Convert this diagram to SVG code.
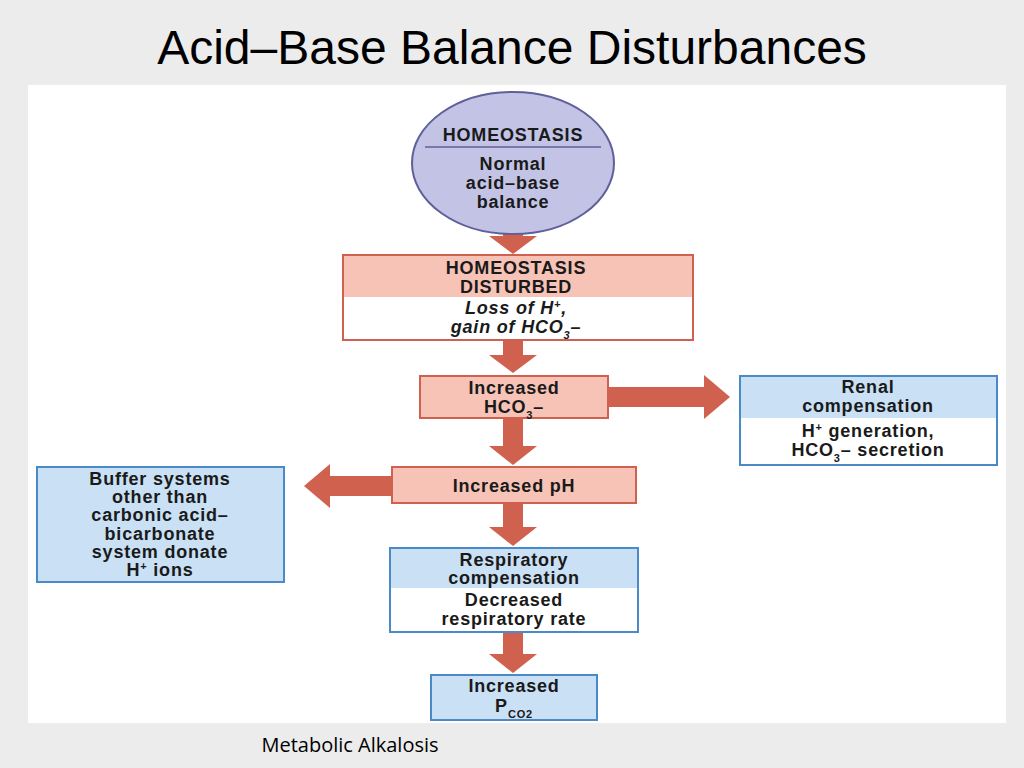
<svg xmlns="http://www.w3.org/2000/svg" width="1024" height="768" viewBox="0 0 1024 768">
<style>
.t{font-family:"Liberation Sans",Arial,sans-serif;font-weight:bold;font-size:18px;letter-spacing:0.8px;fill:#1a1a1a;text-anchor:middle}
.i{font-style:italic}
.pk{fill:#f6c3b6;stroke:#d0614f;stroke-width:2}
.bl{fill:#c9e0f5;stroke:#4a8ac6;stroke-width:2}
.wh{fill:#ffffff}
.ar{fill:#d0614f}
.sup{font-size:11px;baseline-shift:super}
.sub{font-size:11px;baseline-shift:sub}
</style>
<rect width="1024" height="768" fill="#ececec"/>
<rect x="28" y="85" width="978" height="638" fill="#ffffff"/>
<text x="512" y="64" font-family="'Liberation Sans',Arial,sans-serif" font-size="48" fill="#000" text-anchor="middle">Acid–Base Balance Disturbances</text>
<g id="connectors">
<path class="ar" d="M503 222h20v14h14l-24 18l-24-18h14z"/>
<path class="ar" d="M503 341h20v14h14l-24 18l-24-18h14z"/>
<path class="ar" d="M503 418h20v28h14l-24 19l-24-19h14z"/>
<path class="ar" d="M503 503h20v24h14l-24 19l-24-19h14z"/>
<path class="ar" d="M503 632h20v22h14l-24 19l-24-19h14z"/>
<path class="ar" d="M608 387h96v-12l26 22l-26 22v-12h-96z"/>
<path class="ar" d="M392 476h-62v-12l-26 22l26 22v-12h62z"/>
</g>
<g id="homeostasis">
<ellipse cx="513" cy="163" rx="101" ry="71" fill="#c3c3e6" stroke="#5f5f9a" stroke-width="2"/>
<line x1="425" y1="147" x2="601" y2="147" stroke="#5f5f9a" stroke-width="1.5"/>
<text class="t" x="513" y="141">HOMEOSTASIS</text>
<text class="t" x="513" y="170">Normal</text>
<text class="t" x="513" y="189">acid–base</text>
<text class="t" x="513" y="208">balance</text>
</g>
<g id="disturbed">
<rect class="wh" x="343" y="255" width="350" height="85"/>
<rect fill="#f6c3b6" x="343" y="255" width="350" height="42"/>
<rect x="343" y="255" width="350" height="85" fill="none" stroke="#d0614f" stroke-width="2"/>
<text class="t" x="516" y="274">HOMEOSTASIS</text>
<text class="t" x="516" y="293">DISTURBED</text>
<text class="t i" x="516" y="314">Loss of H<tspan class="sup">+</tspan>,</text>
<text class="t i" x="516" y="333">gain of HCO<tspan class="sub">3</tspan>–</text>
</g>
<g id="hco3">
<rect class="pk" x="420" y="376" width="188" height="42"/>
<text class="t" x="514" y="394">Increased</text>
<text class="t" x="514" y="413">HCO<tspan class="sub">3</tspan>–</text>
</g>
<g id="renal">
<rect class="wh" x="740" y="376" width="257" height="89"/>
<rect fill="#c9e0f5" x="740" y="376" width="257" height="42"/>
<rect x="740" y="376" width="257" height="89" fill="none" stroke="#4a8ac6" stroke-width="2"/>
<text class="t" x="868" y="393">Renal</text>
<text class="t" x="868" y="412">compensation</text>
<text class="t" x="868" y="437">H<tspan class="sup">+</tspan> generation,</text>
<text class="t" x="868" y="456">HCO<tspan class="sub">3</tspan>– secretion</text>
</g>
<g id="ph">
<rect class="pk" x="392" y="467" width="244" height="36"/>
<text class="t" x="514" y="492">Increased pH</text>
</g>
<g id="buffer">
<rect class="bl" x="37" y="467" width="247" height="115"/>
<text class="t" x="160" y="485">Buffer systems</text>
<text class="t" x="160" y="503">other than</text>
<text class="t" x="160" y="521">carbonic acid–</text>
<text class="t" x="160" y="540">bicarbonate</text>
<text class="t" x="160" y="558">system donate</text>
<text class="t" x="160" y="576">H<tspan class="sup">+</tspan> ions</text>
</g>
<g id="respiratory">
<rect class="wh" x="390" y="548" width="248" height="84"/>
<rect fill="#c9e0f5" x="390" y="548" width="248" height="40"/>
<rect x="390" y="548" width="248" height="84" fill="none" stroke="#4a8ac6" stroke-width="2"/>
<text class="t" x="514" y="566">Respiratory</text>
<text class="t" x="514" y="584">compensation</text>
<text class="t" x="514" y="606">Decreased</text>
<text class="t" x="514" y="625">respiratory rate</text>
</g>
<g id="pco2">
<rect class="bl" x="431" y="675" width="166" height="45"/>
<text class="t" x="514" y="692">Increased</text>
<text class="t" x="514" y="712">P<tspan class="sub" font-size="12">CO</tspan><tspan class="sub" font-size="10">2</tspan></text>
</g>
<text x="350" y="752" font-family="'Open Sans','Liberation Sans',sans-serif" font-size="20" fill="#000" text-anchor="middle">Metabolic Alkalosis</text>
</svg>
